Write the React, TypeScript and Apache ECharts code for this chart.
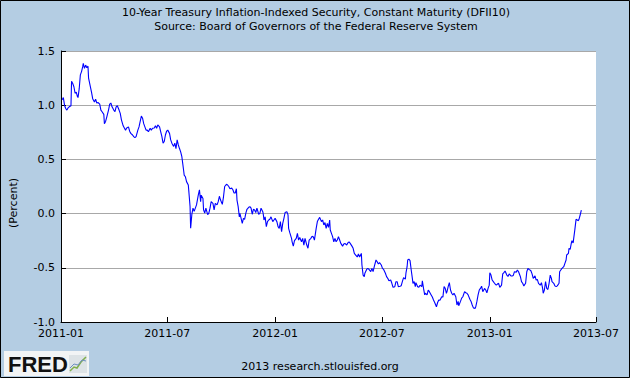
import React, { useEffect, useRef } from "react";
import * as echarts from "echarts";

// Chart texts
const titleLine1 = "10-Year Treasury Inflation-Indexed Security, Constant Maturity (DFII10)";
const titleLine2 = "Source: Board of Governors of the Federal Reserve System";
const yAxisName = "(Percent)";
const footerText = "2013 research.stlouisfed.org";
const logoText = "FRED";

// Axis range
const xStart = [2011, 0, 1];
const xEnd = [2013, 6, 1];
const yMin = -1.0;
const yMax = 1.5;
const yStep = 0.5;

// Observation dates, as days since 2011-01-01
const dayOffsets = [
  2, 4, 6, 8, 10, 12, 14, 17, 18, 20, 22, 24, 26, 28, 29, 31, 33, 35, 37, 38, 40, 42, 44, 46, 47,
  52, 54, 57, 59, 61, 63, 66, 68, 70, 73, 74, 76, 78, 81, 83, 85, 87, 90, 92, 94, 96, 99, 101, 103,
  106, 108, 110, 112, 115, 117, 119, 122, 124, 126, 128, 131, 133, 135, 137, 139, 141, 143, 145,
  147, 149, 152, 154, 156, 159, 161, 163, 165, 168, 170, 172, 174, 176, 178, 180, 182, 185, 187,
  189, 192, 194, 196, 198, 200, 202, 204, 206, 209, 210, 212, 214, 217, 218, 220, 221, 223, 225,
  227, 229, 231, 234, 236, 238, 239, 242, 243, 245, 247, 250, 252, 254, 256, 259, 261, 263, 266,
  268, 270, 272, 275, 277, 279, 282, 284, 286, 288, 291, 293, 295, 297, 299, 300, 302, 304, 305,
  307, 309, 311, 313, 315, 317, 320, 322, 324, 326, 328, 330, 332, 334, 337, 339, 341, 344, 345,
  346, 348, 350, 352, 354, 356, 358, 361, 363, 365, 368, 370, 372, 374, 376, 378, 380, 382, 385,
  387, 388, 390, 393, 394, 396, 398, 401, 403, 405, 407, 410, 412, 414, 416, 419, 421, 423, 426,
  428, 430, 432, 435, 437, 439, 441, 444, 446, 448, 450, 452, 454, 456, 458, 459, 461, 463, 465,
  467, 469, 471, 473, 475, 477, 480, 482, 484, 487, 489, 491, 493, 496, 498, 500, 502, 505, 507,
  509, 512, 513, 515, 517, 518, 521, 523, 525, 528, 530, 532, 534, 537, 539, 541, 543, 546, 548,
  550, 553, 555, 557, 559, 562, 564, 566, 569, 571, 573, 575, 578, 580, 582, 584, 587, 588, 590,
  591, 593, 595, 597, 599, 600, 602, 604, 605, 608, 610, 612, 615, 616, 618, 620, 621, 624, 626,
  628, 631, 633, 635, 637, 640, 642, 644, 646, 649, 651, 653, 655, 657, 658, 660, 662, 664, 666,
  668, 670, 673, 675, 677, 678, 681, 683, 685, 688, 690, 692, 694, 697, 699, 701, 703, 706, 707,
  709, 711, 713, 715, 717, 719, 722, 724, 726, 728, 730, 731, 733, 735, 737, 739, 742, 744, 746,
  748, 751, 753, 755, 757, 760, 762, 764, 767, 769, 771, 773, 776, 778, 780, 783, 785, 787, 789,
  792, 794, 796, 798, 801, 803, 805, 808, 810, 812, 814, 817, 819, 821, 822, 824, 826, 828, 830,
  832, 834, 836, 837, 840, 842, 844, 846, 849, 850, 852, 854, 857, 859, 861, 862, 865, 866, 868,
  870, 871, 873, 876, 878, 879, 882, 883, 885, 887,
];

// DFII10 yield, percent
const yieldValues = [
  1.05, 1.07, 1.0, 0.97, 0.955, 0.975, 0.985, 0.995, 1.22, 1.2, 1.17, 1.11, 1.12, 1.08, 1.07, 1.15,
  1.28, 1.31, 1.355, 1.386, 1.34, 1.37, 1.345, 1.36, 1.25,
  1.12, 1.06, 1.03, 1.055, 1.02, 1.025, 1.01, 0.955, 0.94, 0.915, 0.83, 0.85, 0.89, 0.955, 1.01,
  1.02, 0.985, 0.955, 0.94, 0.985, 0.995, 0.955, 0.925, 0.865,
  0.81, 0.79, 0.77, 0.79, 0.8, 0.76, 0.74, 0.725, 0.71, 0.7, 0.71, 0.77, 0.8, 0.85, 0.9, 0.88,
  0.83, 0.8, 0.77,
  0.77, 0.755, 0.787, 0.77, 0.787, 0.79, 0.81, 0.787, 0.818, 0.8, 0.755, 0.71, 0.65, 0.665, 0.725,
  0.76, 0.77, 0.74, 0.68,
  0.65, 0.62, 0.65, 0.6, 0.68, 0.633, 0.6, 0.57, 0.525, 0.4, 0.355, 0.34, 0.295, 0.264, 0.2, 0.065,
  -0.135, -0.01, 0.05,
  0.02, 0.05, 0.08, 0.17, 0.22, 0.11, 0.17, 0.14, 0.035, 0.005, 0.05, -0.01, 0.005, 0.05, 0.11,
  0.095, 0.035, 0.095, 0.08,
  0.11, 0.16, 0.125, 0.085, 0.155, 0.25, 0.27, 0.264, 0.25, 0.23, 0.235, 0.22, 0.19, 0.19, 0.23,
  0.125, 0.064, -0.03, 0.002,
  -0.044, -0.09, -0.044, -0.053, 0.002, 0.04, 0.058, 0.064, 0.05, -0.006, 0.04, 0.033, 0.01, 0.05,
  -0.006, 0.002, 0.05, 0.018, -0.012,
  -0.059, -0.03, -0.12, -0.074, -0.059, -0.053, -0.03, -0.074, -0.059, -0.044, -0.074, -0.12,
  -0.136, -0.074, -0.166, -0.09, -0.044, 0.01, 0.018,
  -0.012, -0.136, -0.176, -0.228, -0.26, -0.3, -0.25, -0.228, -0.182, -0.244, -0.22, -0.26, -0.228,
  -0.29, -0.228, -0.29, -0.32, -0.244, -0.228,
  -0.21, -0.213, -0.244, -0.136, -0.074, -0.053, -0.035, -0.074, -0.059, -0.105, -0.083, -0.136,
  -0.09, -0.127, -0.059, -0.151, -0.182, -0.213, -0.26,
  -0.228, -0.26, -0.244, -0.213, -0.244, -0.275, -0.3, -0.28, -0.275, -0.29, -0.27, -0.26, -0.275,
  -0.3, -0.32, -0.367, -0.38, -0.4, -0.373,
  -0.4, -0.367, -0.474, -0.567, -0.582, -0.55, -0.515, -0.505, -0.515, -0.535, -0.505, -0.535,
  -0.49, -0.428, -0.444, -0.465, -0.453, -0.474, -0.505,
  -0.515, -0.55, -0.582, -0.597, -0.62, -0.613, -0.643, -0.68, -0.674, -0.628, -0.628, -0.674,
  -0.67, -0.665, -0.625, -0.59, -0.605, -0.55, -0.49,
  -0.428, -0.42, -0.434, -0.52, -0.6, -0.644, -0.628, -0.674, -0.637, -0.674, -0.68, -0.66, -0.674,
  -0.62, -0.69, -0.75, -0.735, -0.75, -0.705,
  -0.72, -0.75, -0.77, -0.797, -0.82, -0.86, -0.82, -0.797, -0.8, -0.767, -0.77, -0.674, -0.69,
  -0.735, -0.72, -0.674, -0.637, -0.705, -0.735,
  -0.75, -0.735, -0.767, -0.843, -0.81, -0.85, -0.81, -0.78, -0.767, -0.72, -0.73, -0.735, -0.75,
  -0.79, -0.81, -0.843, -0.87, -0.874, -0.86,
  -0.81, -0.75, -0.705, -0.69, -0.67, -0.72, -0.69, -0.705, -0.73, -0.69, -0.66, -0.545, -0.567,
  -0.613, -0.628, -0.643, -0.66, -0.65, -0.643,
  -0.68, -0.66, -0.556, -0.545, -0.53, -0.567, -0.58, -0.556, -0.575, -0.575, -0.57, -0.536, -0.54,
  -0.52, -0.536, -0.58, -0.628, -0.643, -0.667,
  -0.643, -0.536, -0.505, -0.514, -0.527, -0.556, -0.597, -0.575, -0.613, -0.607, -0.643, -0.66,
  -0.637, -0.69, -0.735, -0.705, -0.628, -0.69, -0.7,
  -0.643, -0.567, -0.597, -0.628, -0.643, -0.667, -0.674, -0.667, -0.643, -0.536, -0.52, -0.505,
  -0.49, -0.459, -0.428, -0.382, -0.367, -0.32, -0.33,
  -0.27, -0.25, -0.27, -0.145, -0.053, -0.053, -0.065, -0.053, -0.013, 0.033,
];

const FONT = "DejaVu Sans";

function pad2(n: number) {
  return n < 10 ? "0" + n : String(n);
}

export default function App() {
  const ref = useRef<HTMLDivElement>(null);

  useEffect(() => {
    document.body.style.margin = "0";
    if (!ref.current) return;
    const chart = echarts.init(ref.current, null, { renderer: "svg" });

    const seriesData = dayOffsets.map((d, i) => [
      new Date(2011, 0, 1 + d).getTime(),
      yieldValues[i],
    ]);

    const option: any = {
      animation: false,
      backgroundColor: "#B4CDE3",
      grid: {
        left: 61,
        right: 34,
        top: 51,
        bottom: 56,
        show: true,
        backgroundColor: "#FFFFFF",
        borderWidth: 0,
      },
      xAxis: {
        type: "time",
        min: new Date(xStart[0], xStart[1], xStart[2]).getTime(),
        max: new Date(xEnd[0], xEnd[1], xEnd[2]).getTime(),
        splitNumber: 5,
        axisLine: { show: true, onZero: false, lineStyle: { color: "#000", width: 1 } },
        axisTick: { show: true, inside: true, length: 5, lineStyle: { color: "#000" } },
        axisLabel: {
          color: "#000",
          fontSize: 11,
          fontFamily: FONT,
          margin: 6,
          showMinLabel: true,
          showMaxLabel: true,
          hideOverlap: false,
          formatter: (v: number) => {
            const d = new Date(v);
            return d.getFullYear() + "-" + pad2(d.getMonth() + 1);
          },
        },
        splitLine: { show: false },
      },
      yAxis: {
        type: "value",
        min: yMin,
        max: yMax,
        interval: yStep,
        axisLine: { show: true, onZero: false, lineStyle: { color: "#000", width: 1 } },
        axisTick: { show: true, inside: true, length: 5, lineStyle: { color: "#000" } },
        axisLabel: {
          color: "#000",
          fontSize: 11,
          fontFamily: FONT,
          margin: 6,
          formatter: (v: number) => v.toFixed(1),
        },
        splitLine: { show: true, lineStyle: { color: "#A8A8A8", width: 1 } },
      },
      series: [
        {
          type: "line",
          data: seriesData,
          showSymbol: false,
          symbol: "none",
          lineStyle: { color: "#0000FF", width: 1.1 },
          z: 3,
        },
      ],
      graphic: [
        {
          type: "rect",
          shape: { x: 0.5, y: 0.5, width: 629, height: 377 },
          style: { fill: "none", stroke: "#000", lineWidth: 1 },
          silent: true,
          z: 100,
        },
        {
          type: "text",
          x: 316,
          y: 12,
          style: {
            text: titleLine1,
            fill: "#000",
            font: `11px "${FONT}"`,
            align: "center",
            verticalAlign: "middle",
          },
        },
        {
          type: "text",
          x: 316,
          y: 26,
          style: {
            text: titleLine2,
            fill: "#000",
            font: `11px "${FONT}"`,
            align: "center",
            verticalAlign: "middle",
          },
        },
        {
          type: "text",
          x: 13,
          y: 203,
          rotation: Math.PI / 2,
          style: {
            text: yAxisName,
            fill: "#000",
            font: `11px "${FONT}"`,
            align: "center",
            verticalAlign: "middle",
          },
        },
        {
          type: "text",
          x: 320,
          y: 366,
          style: {
            text: footerText,
            fill: "#000",
            font: `11px "${FONT}"`,
            align: "center",
            verticalAlign: "middle",
          },
        },
        {
          type: "group",
          x: 4,
          y: 351,
          children: [
            {
              type: "rect",
              shape: { x: 0, y: 0, width: 85, height: 25 },
              style: { fill: "#F2F4F5" },
            },
            {
              type: "text",
              x: 4,
              y: 13,
              style: {
                text: logoText,
                fill: "#111",
                font: `bold 22px "Liberation Sans"`,
                verticalAlign: "middle",
              },
            },
            {
              type: "rect",
              shape: { x: 65, y: 4, width: 18, height: 18 },
              style: { fill: "#DDE3E6" },
            },
            {
              type: "polyline",
              shape: { points: [[66, 20], [70, 16], [73, 17], [77, 11], [82, 6]] },
              style: { stroke: "#7FAF4A", lineWidth: 1.5, fill: "none" },
            },
            {
              type: "polyline",
              shape: { points: [[66, 17], [70, 13], [74, 14], [78, 9], [82, 10]] },
              style: { stroke: "#6E8FC0", lineWidth: 1, fill: "none" },
            },
          ],
        },
      ],
    };

    chart.setOption(option);
    return () => chart.dispose();
  }, []);

  return (
    <div
      ref={ref}
      style={{ position: "fixed", left: 0, top: 0, width: 630, height: 378 }}
    />
  );
}
